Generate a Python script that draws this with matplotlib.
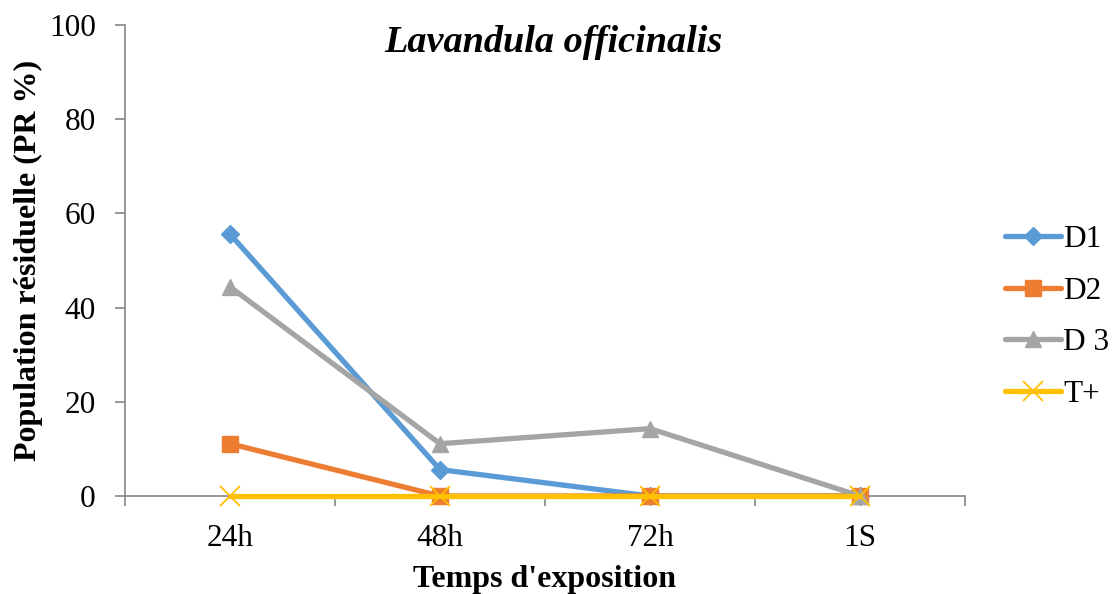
import matplotlib
matplotlib.use("Agg")
import matplotlib.pyplot as plt

categories = ["24h", "48h", "72h", "1S"]
d1 = [55.6, 5.6, 0, 0]
d2 = [11.1, 0, 0, 0]
d3 = [44.4, 11.1, 14.3, 0]
tplus = [0, 0, 0, 0]
series_names = ["D1", "D2", "D 3", "T+"]
yticks = [0, 20, 40, 60, 80, 100]

plt.rcParams['font.family'] = ['Liberation Serif', 'DejaVu Serif']

fig = plt.figure(figsize=(11.16, 5.94), dpi=100)
ax = fig.add_axes([0.112, 0.165, 0.7527, 0.793])

x = list(range(len(categories)))
colors = ["#5B9BD5", "#ED7D31", "#A5A5A5", "#FFC000"]
markers = ["D", "s", "^", "x"]
msizes = [9, 12, 12, 14]
data = [d1, d2, d3, tplus]
handles = []
for i, (vals, c, m, ms, name) in enumerate(zip(data, colors, markers, msizes, series_names)):
    kw = dict(color=c, lw=3.8, marker=m, markersize=ms, solid_capstyle='round',
              zorder=3 + i, clip_on=False)
    if m == 'x':
        kw.update(markeredgewidth=1.3)
    ln, = ax.plot(x, vals, label=name, **kw)
    handles.append(ln)

ax.set_xlim(-0.5, len(categories) - 0.5)
ax.set_ylim(0, 100)
ax.set_yticks(yticks)
ax.set_xticks(x)
ax.set_xticklabels(categories)
ax.set_xticks([-0.5, 0.5, 1.5, 2.5, 3.5], minor=True)
ax.tick_params(axis='x', which='major', length=0, labelsize=22.5, pad=20)
ax.tick_params(axis='x', which='minor', length=7, color='#868686', width=1.2)
ax.tick_params(axis='y', length=7, color='#868686', width=1.2, labelsize=22.5, pad=14)

for s in ['top', 'right']:
    ax.spines[s].set_visible(False)
for s in ['left', 'bottom']:
    ax.spines[s].set_color('#868686')
    ax.spines[s].set_linewidth(1.2)

ax.text(0.51, 0.962, "Lavandula officinalis", transform=ax.transAxes, ha='center', va='center',
        style='italic', fontweight='bold', fontsize=27.5)
ax.set_ylabel("Population résiduelle (PR %)", fontsize=23, fontweight='bold', labelpad=4)
ax.set_xlabel("Temps d'exposition", fontsize=23, fontweight='bold', labelpad=9)

leg = ax.legend(handles=handles, loc='center left', bbox_to_anchor=(1.033, 0.38),
                frameon=False, fontsize=22.5, handlelength=1.8, handletextpad=0.05,
                labelspacing=0.72, borderaxespad=0)

fig.savefig("out.png", dpi=100)
